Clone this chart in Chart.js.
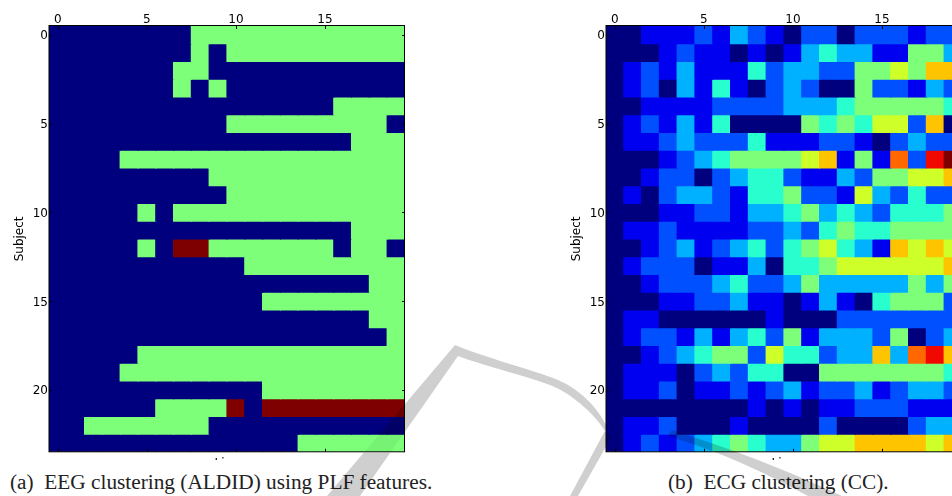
<!DOCTYPE html>
<html>
<head>
<meta charset="utf-8">
<title>Clustering</title>
<script src="https://cdn.jsdelivr.net/npm/chart.js@4"></script>
<style>
html, body { margin: 0; padding: 0; background: #fff; width: 952px; height: 496px; overflow: hidden; }
canvas { position: absolute; top: 0; }
.caption { position: absolute; top: 470px; font: 21.3px "Liberation Serif", serif; color: #222; white-space: pre; }
.cut { position: absolute; top: 456px; height: 4px; width: 60px; overflow: hidden; text-align: center; font: 12px/14px "DejaVu Sans", sans-serif; color: #000; }
svg { position: absolute; left: 0; top: 0; mix-blend-mode: multiply; pointer-events: none; }
</style>
</head>
<body>
<canvas id="chartA" width="406" height="460" style="left:0"></canvas>
<canvas id="chartB" width="406" height="460" style="left:557px"></canvas>
<div class="cut" style="left:197px">Line</div>
<div class="cut" style="left:754px">Line</div>
<div class="caption" style="left:10px">(a)  EEG clustering (ALDID) using PLF features.</div>
<div class="caption" style="left:668px">(b)  ECG clustering (CC).</div>
<svg width="952" height="496">
  <defs>
    <clipPath id="offGreen"><path clip-rule="evenodd" d="M0 0 H952 V496 H0 Z M298 435 H405 V453 H298 Z"/></clipPath>
    <clipPath id="onGreen"><rect x="298" y="435" width="107" height="18"/></clipPath>
    <path id="band" d="M455 345 C 480 356 520 366 553 378 C 580 388 598 408 607 427 L 570 496 L 578 496 L 612 436 L 606 433 C 598 418 575 395 550 385 C 520 374 485 366 458 356 L 360 496 L 327 496 Z"/>
  </defs>
  <use href="#band" fill="#cfcfcf" clip-path="url(#offGreen)"/>
  <use href="#band" fill="#f3f3f3" clip-path="url(#onGreen)"/>
  <path fill="#cfcfcf" d="M672 430 C 720 446 770 462 842 496 L 808 496 C 760 470 720 452 668 436 Z"/>
</svg>
<script>
var columns = ['0','1','2','3','4','5','6','7','8','9','10','11','12','13','14','15','16','17','18','19'];
var yTicks = [0, 5, 10, 15, 20];

// jet colours for the levels 0..10
var jet = ['#00007f','#0000f1','#0050ff','#00b1ff','#29ffce','#7dff7a','#ceff29','#ffc400','#ff6700','#f10800','#7f0000'];

// (a) EEG, 0 = navy, 1 = green, 2 = dark red
var eegCells = [
  [0,0,0,0,0,0,0,0,1,1,1,1,1,1,1,1,1,1,1,1],
  [0,0,0,0,0,0,0,0,1,0,1,1,1,1,1,1,1,1,1,1],
  [0,0,0,0,0,0,0,1,1,0,0,0,0,0,0,0,0,0,0,0],
  [0,0,0,0,0,0,0,1,0,1,0,0,0,0,0,0,0,0,0,0],
  [0,0,0,0,0,0,0,0,0,0,0,0,0,0,0,0,1,1,1,1],
  [0,0,0,0,0,0,0,0,0,0,1,1,1,1,1,1,1,1,1,0],
  [0,0,0,0,0,0,0,0,0,0,0,0,0,0,0,0,0,1,1,1],
  [0,0,0,0,1,1,1,1,1,1,1,1,1,1,1,1,1,1,1,1],
  [0,0,0,0,0,0,0,0,0,1,1,1,1,1,1,1,1,1,1,1],
  [0,0,0,0,0,0,0,0,0,0,1,1,1,1,1,1,1,1,1,1],
  [0,0,0,0,0,1,0,1,1,1,1,1,1,1,1,1,1,1,1,1],
  [0,0,0,0,0,0,0,0,0,0,0,0,0,0,0,0,0,1,1,1],
  [0,0,0,0,0,1,0,2,2,1,1,1,1,1,1,1,0,1,1,0],
  [0,0,0,0,0,0,0,0,0,0,0,1,1,1,1,1,1,1,1,1],
  [0,0,0,0,0,0,0,0,0,0,0,0,0,0,0,0,0,0,1,1],
  [0,0,0,0,0,0,0,0,0,0,0,0,1,1,1,1,1,1,1,1],
  [0,0,0,0,0,0,0,0,0,0,0,0,0,0,0,0,0,0,1,1],
  [0,0,0,0,0,0,0,0,0,0,0,0,0,0,0,0,0,0,0,1],
  [0,0,0,0,0,1,1,1,1,1,1,1,1,1,1,1,1,1,1,1],
  [0,0,0,0,1,1,1,1,1,1,1,1,1,1,1,1,1,1,1,1],
  [0,0,0,0,0,0,0,0,0,0,0,0,1,1,1,1,1,1,1,1],
  [0,0,0,0,0,0,1,1,1,1,2,0,2,2,2,2,2,2,2,2],
  [0,0,1,1,1,1,1,1,1,0,0,0,0,0,0,0,0,0,0,0],
  [0,0,0,0,0,0,0,0,0,0,0,0,0,0,1,1,1,1,1,1]
];

// (b) ECG, levels 0..10
var ecgCells = [
  [0,0,1,1,1,2,1,3,2,1,0,2,2,0,2,2,2,1,2,2],
  [0,0,0,1,2,1,1,0,1,0,1,3,4,3,3,1,1,5,5,3],
  [0,1,2,1,3,1,1,1,4,2,3,3,2,2,5,5,6,5,7,7],
  [0,1,2,0,3,1,4,1,0,2,3,2,0,0,5,2,2,1,3,2],
  [0,0,1,1,1,1,2,2,2,2,3,3,3,4,5,5,5,5,5,4],
  [0,1,2,1,3,1,4,0,0,0,0,5,4,5,4,6,6,2,7,0],
  [0,1,1,2,3,2,2,2,4,1,1,1,2,2,1,0,2,3,2,2],
  [0,0,0,1,2,3,4,5,5,5,5,6,7,1,5,1,8,2,9,10],
  [0,0,1,2,2,0,2,3,4,4,2,1,1,3,2,5,5,6,6,7],
  [0,1,0,2,3,3,2,1,4,4,5,2,2,1,6,3,2,4,2,2],
  [0,0,0,1,1,2,2,1,3,3,4,5,3,4,3,2,4,4,4,5],
  [0,1,1,2,1,1,1,1,2,2,3,2,4,5,4,4,5,5,5,5],
  [0,0,1,2,3,1,2,3,4,2,4,5,6,4,3,1,7,6,7,6],
  [0,1,2,2,2,0,1,1,3,0,4,4,5,6,6,6,6,6,6,7],
  [0,0,1,2,2,2,3,4,2,2,3,5,3,3,3,3,3,5,3,5],
  [0,0,0,1,1,2,2,3,1,1,0,1,3,1,0,4,5,5,5,2],
  [0,1,1,0,0,0,0,0,0,1,0,0,0,2,2,2,2,2,2,2],
  [0,1,2,2,1,3,1,3,4,2,5,1,3,3,3,2,5,0,2,3],
  [0,0,1,2,3,4,5,5,2,6,4,4,2,3,3,7,3,8,9,7],
  [0,1,1,1,0,2,3,2,4,4,0,0,5,5,5,5,5,5,5,4],
  [0,1,1,2,0,1,1,2,1,2,3,1,2,2,3,1,2,3,3,2],
  [0,0,0,0,0,0,0,0,1,0,1,0,1,1,2,2,2,1,1,1],
  [0,1,1,2,0,0,0,1,0,0,0,0,2,0,0,0,0,2,3,3],
  [0,1,2,1,2,3,4,5,4,3,3,5,6,6,7,7,7,7,6,7]
];

// ticks point inward on all four sides, like the old matplotlib imshow
var frameTicks = {
  id: 'frameTicks',
  afterDraw: function (chart) {
    var ctx = chart.ctx, a = chart.chartArea;
    ctx.save();
    ctx.strokeStyle = '#000';
    ctx.lineWidth = 1;
    ctx.beginPath();
    chart.scales.x.ticks.forEach(function (t, i) {
      if (i % 5) return;
      var px = Math.round(chart.scales.x.getPixelForTick(i)) + 0.5;
      ctx.moveTo(px, a.top); ctx.lineTo(px, a.top + 3);
      ctx.moveTo(px, a.bottom); ctx.lineTo(px, a.bottom - 3);
    });
    yTicks.forEach(function (v) {
      var py = Math.round(chart.scales.y.getPixelForValue(v)) + 0.5;
      ctx.moveTo(a.left, py); ctx.lineTo(a.left + 3, py);
      ctx.moveTo(a.right, py); ctx.lineTo(a.right - 3, py);
    });
    ctx.stroke();
    ctx.strokeRect(a.left, a.top - 0.5, a.right - a.left - 0.5, a.bottom - a.top + 0.5);
    ctx.restore();
  }
};

function makeHeatmap(id, cells, maxValue) {
  var datasets = cells.map(function (row, r) {
    return {
      grouped: false,
      barPercentage: 1,
      categoryPercentage: 1,
      borderWidth: 0,
      inflateAmount: 0.6,
      data: row.map(function () { return [r - 0.5, r + 0.5]; }),
      backgroundColor: row.map(function (v) { return jet[Math.round(v / maxValue * 10)]; })
    };
  });
  return new Chart(document.getElementById(id).getContext('2d'), {
    type: 'bar',
    data: { labels: columns, datasets: datasets },
    plugins: [frameTicks],
    options: {
      responsive: false,
      animation: false,
      layout: { autoPadding: false, padding: { top: 0, right: 1, bottom: 6, left: 0 } },
      plugins: { legend: { display: false }, tooltip: { enabled: false } },
      scales: {
        x: {
          position: 'top',
          afterFit: function (s) { s.height = 26; },
          grid: { display: false, drawTicks: false },
          border: { display: false },
          ticks: {
            autoSkip: false, maxRotation: 0, padding: -1,
            color: '#000', font: { family: 'DejaVu Sans', size: 12 },
            callback: function (v, i) { return i % 5 ? '' : columns[i]; }
          }
        },
        y: {
          reverse: true, min: -0.5, max: 23.5,
          afterBuildTicks: function (s) { s.ticks = yTicks.map(function (v) { return { value: v }; }); },
          afterFit: function (s) { s.width = 49; },
          grid: { display: false, drawTicks: false },
          border: { display: false },
          title: { display: true, text: 'Subject', color: '#000', font: { family: 'DejaVu Sans', size: 12 }, padding: { top: 13, bottom: 0 } },
          ticks: { padding: 1, labelOffset: 1.5, color: '#000', font: { family: 'DejaVu Sans', size: 12 } }
        }
      }
    }
  });
}

makeHeatmap('chartA', eegCells, 2);
makeHeatmap('chartB', ecgCells, 10);
</script>
</body>
</html>
